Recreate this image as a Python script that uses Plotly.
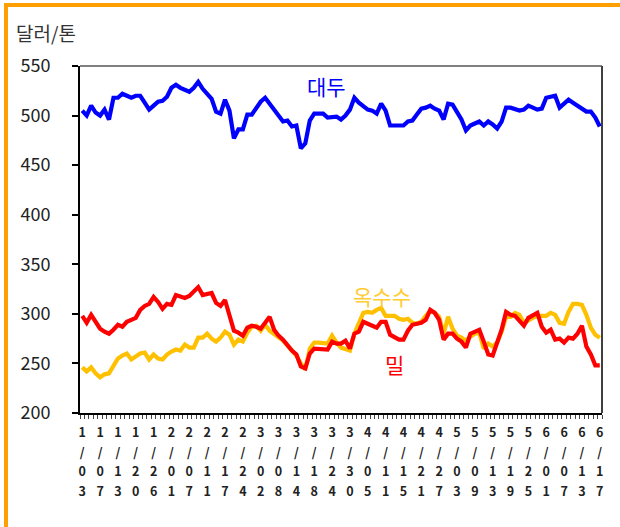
import plotly.graph_objects as go

tick_labels = ["1/03", "1/07", "1/13", "1/20", "1/26", "2/01", "2/07", "2/11", "2/17", "2/24",
               "3/02", "3/08", "3/14", "3/18", "3/24", "3/30", "4/05", "4/11", "4/15", "4/21",
               "4/27", "5/03", "5/09", "5/13", "5/19", "5/25", "6/01", "6/07", "6/13", "6/17"]

soybean = [505, 500, 510, 503, 500, 506, 496, 518, 518, 522, 520, 518, 520, 520, 513, 506, 510, 514, 515, 519,
           528, 531, 528, 526, 524, 528, 534, 527, 522, 517, 504, 502, 516, 505, 477, 486, 486, 501, 501, 507,
           514, 518, 512, 506, 500, 494, 495, 489, 490, 467, 472, 495, 502, 502, 502, 498, 498, 499, 496, 500,
           506, 518, 513, 509, 506, 505, 502, 512, 505, 490, 490, 490, 490, 494, 495, 501, 507, 508, 510, 507,
           505, 496, 512, 511, 503, 496, 485, 490, 492, 494, 490, 494, 491, 487, 494, 508, 508, 507, 505, 506,
           510, 508, 506, 507, 518, 519, 520, 508, 512, 516, 513, 510, 508, 504, 504, 498, 489]

wheat = [298, 291, 299, 291, 285, 282, 280, 284, 289, 287, 292, 294, 296, 304, 308, 310, 317, 312, 305, 310,
         309, 319, 317, 316, 318, 322, 327, 319, 320, 321, 311, 308, 314, 297, 283, 281, 278, 286, 288, 287,
         285, 291, 297, 284, 278, 274, 268, 263, 259, 247, 245, 260, 265, 265, 265, 264, 272, 270, 270, 273,
         265, 280, 282, 292, 290, 288, 286, 292, 292, 279, 276, 274, 274, 283, 289, 290, 291, 294, 304, 301,
         294, 274, 280, 280, 275, 272, 266, 280, 282, 284, 272, 259, 258, 270, 284, 302, 299, 298, 293, 288,
         296, 298, 301, 287, 281, 284, 274, 275, 271, 276, 275, 280, 288, 267, 259, 248, 248]

corn = [246, 242, 246, 240, 236, 239, 240, 248, 255, 258, 260, 254, 257, 260, 261, 254, 259, 255, 254, 259,
        262, 264, 263, 269, 266, 266, 276, 276, 280, 275, 272, 276, 282, 279, 269, 274, 272, 281, 287, 288,
        283, 289, 283, 280, 276, 273, 268, 263, 258, 250, 244, 265, 271, 271, 271, 270, 278, 271, 266, 264,
        263, 280, 292, 301, 302, 301, 304, 306, 298, 298, 298, 295, 294, 295, 291, 290, 292, 298, 303, 301,
        297, 280, 297, 285, 278, 276, 273, 277, 280, 281, 265, 270, 267, 271, 282, 297, 297, 301, 299, 291,
        294, 296, 298, 298, 298, 301, 299, 291, 290, 302, 310, 310, 309, 299, 286, 279, 276]

y_ticks = [200, 250, 300, 350, 400, 450, 500, 550]

x = list(range(len(soybean)))
step = 4
tickvals = [i * step for i in range(len(tick_labels))]
ticktext = ["<span style='font-size:12.5px'>" + "<br>".join(list(t)) + "</span>" for t in tick_labels]

FONT = "Noto Sans CJK KR"
PW, PH = 522, 347  # plot area size in px

fig = go.Figure()
fig.add_trace(go.Scatter(x=x, y=soybean, mode="lines", line=dict(color="#0000FF", width=4.2), name="대두"))
fig.add_trace(go.Scatter(x=x, y=corn, mode="lines", line=dict(color="#FFC000", width=4.2), name="옥수수"))
fig.add_trace(go.Scatter(x=x, y=wheat, mode="lines", line=dict(color="#FF0000", width=4.2), name="밀"))

fig.update_layout(
    width=620, height=527,
    margin=dict(l=80, r=18, t=66, b=114),
    paper_bgcolor="white", plot_bgcolor="white",
    showlegend=False,
    font=dict(family=FONT, color="#222222"),
    xaxis=dict(
        automargin=False,
        range=[-0.5, len(soybean) - 0.5],
        tickmode="array", tickvals=tickvals, ticktext=ticktext,
        tickfont=dict(size=15, color="#222222", weight="bold"),
        ticks="", showgrid=False, zeroline=False,
        showline=True, linecolor="black", linewidth=2,
        ticklabelstandoff=4,
        minor=dict(ticks="outside", tick0=-0.5, dtick=1, ticklen=4, tickcolor="#444", tickwidth=1, showgrid=False),
    ),
    yaxis=dict(
        automargin=False,
        range=[200, 550],
        tickmode="array", tickvals=y_ticks,
        tickfont=dict(size=18, color="#222222"),
        ticks="outside", ticklen=6, tickcolor="black", tickwidth=1.5,
        ticklabelstandoff=18,
        showgrid=False, zeroline=False,
        showline=True, linecolor="black", linewidth=2,
    ),
    shapes=[
        dict(type="line", xref="paper", yref="paper", x0=0, x1=1, y0=1, y1=1,
             line=dict(color="#808080", width=2)),
        dict(type="line", xref="paper", yref="paper", x0=1, x1=1, y0=0, y1=1,
             line=dict(color="#404040", width=2)),
    ],
    annotations=[
        dict(text="달러/톤", xref="paper", yref="paper", x=(14 - 80) / PW, y=1 + 33 / PH,
             xanchor="left", yanchor="middle", showarrow=False, font=dict(size=19, color="#333333", family=FONT)),
        dict(text="대두", x=54.7, y=530, showarrow=False, font=dict(size=21, color="#0000FF", family=FONT)),
        dict(text="옥수수", x=67.2, y=318, showarrow=False, font=dict(size=21, color="#FFCC33", family=FONT)),
        dict(text="밀", x=70.1, y=249, showarrow=False, font=dict(size=21, color="#FF0000", family=FONT)),
    ],
)

# orange border (top and left) around the chart
fig.add_shape(type="line", xref="paper", yref="paper",
              x0=(4 - 80) / PW, x1=1 + 20 / PW, y0=1 + 61 / PH, y1=1 + 61 / PH,
              line=dict(color="#FFA000", width=4))
fig.add_shape(type="line", xref="paper", yref="paper",
              x0=(6 - 80) / PW, x1=(6 - 80) / PW, y0=1 + 63 / PH, y1=-120 / PH,
              line=dict(color="#FFA000", width=4))

fig.write_html("out.html", config={"displayModeBar": False},
               post_script="document.body.style.margin='0';")
